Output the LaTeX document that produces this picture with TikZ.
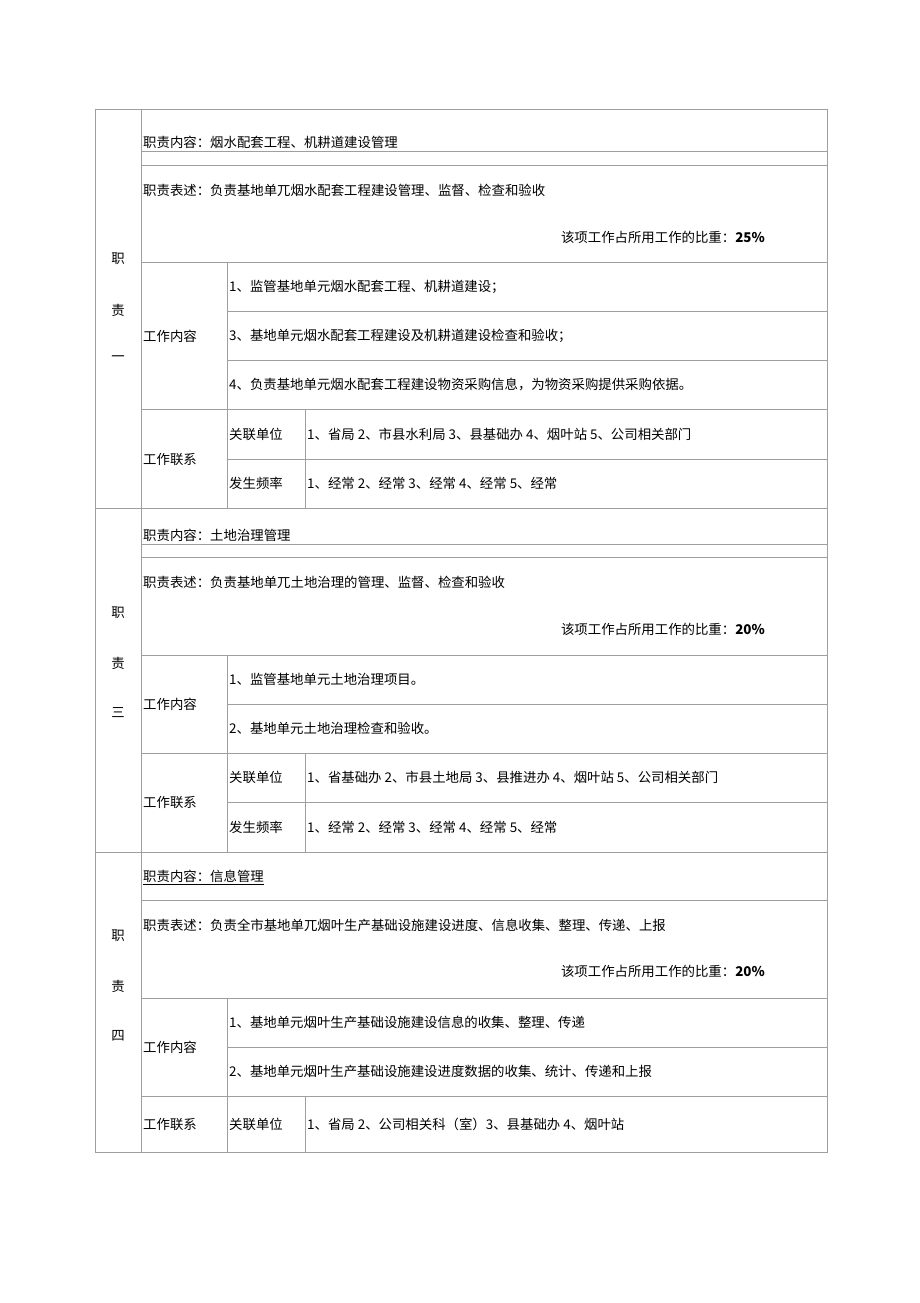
\documentclass[tikz,border=0pt]{standalone}
\usepackage{fontspec}
\setmainfont{Noto Sans CJK SC}
\usepackage{tikz}

\tikzset{
  cell/.style={anchor=west, inner sep=0pt, font=\fontsize{13.4}{15}\selectfont},
  side/.style={inner sep=0pt, font=\fontsize{13.4}{15}\selectfont},
  ratio/.style={anchor=east, inner sep=0pt, font=\fontsize{13.4}{15}\selectfont},
  grid/.style={draw=gray!75, line width=0.8pt}
}

\begin{document}
\begin{tikzpicture}[x=1pt, y=-1pt]
        \useasboundingbox (0,0) rectangle (920,1303);

        % outer frame and block borders
        \draw[grid] (95,109) rectangle (827,1152);
        \draw[grid] (141,109) -- (141,1152);
        \draw[grid] (95,508) -- (827,508);
        \draw[grid] (95,852) -- (827,852);

        % block one
        \draw[grid] (141,151) -- (827,151);
        \draw[grid] (141,165) -- (827,165);
        \draw[grid] (141,262) -- (827,262);
        \draw[grid] (227,311) -- (827,311);
        \draw[grid] (227,360) -- (827,360);
        \draw[grid] (141,409) -- (827,409);
        \draw[grid] (227,459) -- (827,459);
        \draw[grid] (227,262) -- (227,508);
        \draw[grid] (305,409) -- (305,508);

        \node[side] (dutyA1) at (118,259) {职};
        \node[side] (dutyA2) at (118,310) {责};
        \node[side] (dutyA3) at (118,359) {一};
        \node[cell] (contentA) at (143,142) {职责内容：烟水配套工程、机耕道建设管理};
        \node[cell] (descA) at (143,190) {职责表述：负责基地单兀烟水配套工程建设管理、监督、检查和验收};
        \node[ratio] (ratioA) at (765,237) {该项工作占所用工作的比重：\textbf{25\%}};
        \node[cell] (workA) at (143,336) {工作内容};
        \node[cell] (workA1) at (229,287) {1、监管基地单元烟水配套工程、机耕道建设；};
        \node[cell] (workA2) at (229,336) {3、基地单元烟水配套工程建设及机耕道建设检查和验收；};
        \node[cell] (workA3) at (229,385) {4、负责基地单元烟水配套工程建设物资采购信息，为物资采购提供采购依据。};
        \node[cell] (linkA) at (143,459) {工作联系};
        \node[cell] (unitA) at (229,434) {关联单位};
        \node[cell] (freqA) at (229,483) {发生频率};
        \node[cell] (unitAtxt) at (307,434) {1、省局 2、市县水利局 3、县基础办 4、烟叶站 5、公司相关部门};
        \node[cell] (freqAtxt) at (307,483) {1、经常 2、经常 3、经常 4、经常 5、经常};

        % block three
        \draw[grid] (141,544) -- (827,544);
        \draw[grid] (141,557) -- (827,557);
        \draw[grid] (141,655) -- (827,655);
        \draw[grid] (227,704) -- (827,704);
        \draw[grid] (141,753) -- (827,753);
        \draw[grid] (227,802) -- (827,802);
        \draw[grid] (227,655) -- (227,852);
        \draw[grid] (305,753) -- (305,852);

        \node[side] (dutyB1) at (118,613) {职};
        \node[side] (dutyB2) at (118,663) {责};
        \node[side] (dutyB3) at (118,713) {三};
        \node[cell] (contentB) at (143,535) {职责内容：土地治理管理};
        \node[cell] (descB) at (143,582) {职责表述：负责基地单兀土地治理的管理、监督、检查和验收};
        \node[ratio] (ratioB) at (765,629) {该项工作占所用工作的比重：\textbf{20\%}};
        \node[cell] (workB) at (143,704) {工作内容};
        \node[cell] (workB1) at (229,679) {1、监管基地单元土地治理项目。};
        \node[cell] (workB2) at (229,728) {2、基地单元土地治理检查和验收。};
        \node[cell] (linkB) at (143,802) {工作联系};
        \node[cell] (unitB) at (229,777) {关联单位};
        \node[cell] (freqB) at (229,827) {发生频率};
        \node[cell] (unitBtxt) at (307,777) {1、省基础办 2、市县土地局 3、县推进办 4、烟叶站 5、公司相关部门};
        \node[cell] (freqBtxt) at (307,827) {1、经常 2、经常 3、经常 4、经常 5、经常};

        % block four
        \draw[grid] (141,900) -- (827,900);
        \draw[grid] (141,998) -- (827,998);
        \draw[grid] (227,1047) -- (827,1047);
        \draw[grid] (141,1096) -- (827,1096);
        \draw[grid] (227,998) -- (227,1152);
        \draw[grid] (305,1096) -- (305,1152);

        \node[side] (dutyC1) at (118,936) {职};
        \node[side] (dutyC2) at (118,986) {责};
        \node[side] (dutyC3) at (118,1036) {四};
        \node[cell] (contentC) at (143,876) {职责内容：信息管理};
        \draw[line width=0.6pt] ([yshift=-2pt]contentC.south west) -- ([yshift=-2pt]contentC.south east);
        \node[cell] (descC) at (143,925) {职责表述：负责全市基地单兀烟叶生产基础设施建设进度、信息收集、整理、传递、上报};
        \node[ratio] (ratioC) at (765,971) {该项工作占所用工作的比重：\textbf{20\%}};
        \node[cell] (workC) at (143,1047) {工作内容};
        \node[cell] (workC1) at (229,1022) {1、基地单元烟叶生产基础设施建设信息的收集、整理、传递};
        \node[cell] (workC2) at (229,1071) {2、基地单元烟叶生产基础设施建设进度数据的收集、统计、传递和上报};
        \node[cell] (linkC) at (143,1124) {工作联系};
        \node[cell] (unitC) at (229,1124) {关联单位};
        \node[cell] (unitCtxt) at (307,1124) {1、省局 2、公司相关科（室）3、县基础办 4、烟叶站};
\end{tikzpicture}
\end{document}
